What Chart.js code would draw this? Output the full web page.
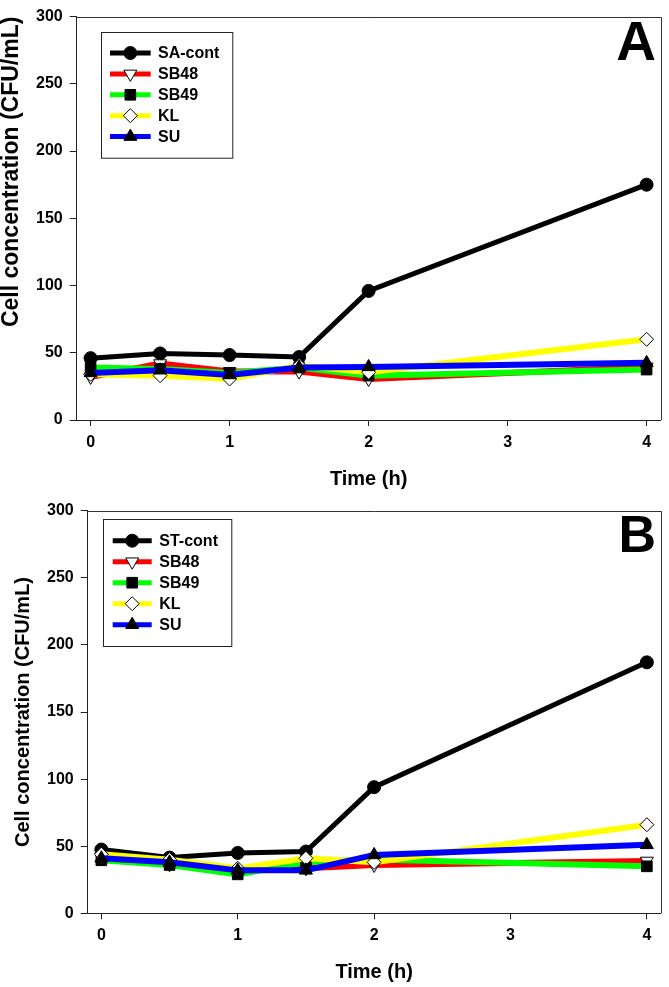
<!DOCTYPE html>
<html><head><meta charset="utf-8">
<script src="https://cdn.jsdelivr.net/npm/chart.js@4.4.0/dist/chart.umd.min.js"></script>
<style>
html,body{margin:0;padding:0;background:#fff;}
#wrap{position:relative;width:669px;height:987px;background:#fff;}
.panel{position:absolute;left:0;width:669px;}
canvas{display:block;}
</style></head><body>
<div id="wrap">
<div class="panel" style="top:0;height:493px"><canvas id="cA" width="669" height="493"></canvas></div>
<div class="panel" style="top:493px;height:494px"><canvas id="cB" width="669" height="494"></canvas></div>
</div>
<script>
// ---- data ----
const times = [0, 0.5, 1, 1.5, 2, 4];
const xTickValues = [0, 1, 2, 3, 4];
const yTickValues = [0, 50, 100, 150, 200, 250, 300];

const namesA = ['SA-cont', 'SB48', 'SB49', 'KL', 'SU'];
const namesB = ['ST-cont', 'SB48', 'SB49', 'KL', 'SU'];

const aCont = [46, 49.5, 48.3, 46.8, 96, 175];
const aSB48 = [32, 42, 36, 36, 30.5, 39.5];
const aSB49 = [39, 38, 35, 39, 33, 37.5];
const aKL   = [34, 33, 30.5, 40.5, 35.5, 60];
const aSU   = [35, 37, 33.5, 39, 39.5, 42.5];

const bCont = [47.5, 41.5, 45, 46, 94, 187];
const bSB48 = [42, 36.5, 31.5, 33.5, 36, 39];
const bSB49 = [39.5, 36, 29, 38, 40, 35];
const bKL   = [44, 40, 33.5, 41, 38, 66];
const bSU   = [41, 38, 32, 32, 43.5, 51];

// ---- styles ----
const FONT = "'Liberation Sans', Arial, Helvetica, sans-serif";
Chart.defaults.font.family = FONT;
Chart.defaults.color = '#000';

const styles = [
  {color:'#000000', point:'circle',   rot:0,   radius:6.5, fill:'#000000', width:5, order:5},
  {color:'#FF0000', point:'triangle', rot:180, radius:7.5, fill:'#FFFFFF', width:6, order:4},
  {color:'#00FF00', point:'rect',     rot:0,   radius:7.5, fill:'#000000', width:6, order:3},
  {color:'#FFFF00', point:'rectRot',  rot:0,   radius:7,   fill:'#FFFFFF', width:6, order:2},
  {color:'#0000FF', point:'triangle', rot:0,   radius:7.5, fill:'#000000', width:6, order:1}
];

function makeDatasets(names, seriesList) {
  return seriesList.map((vals, i) => {
    const s = styles[i];
    return {
      label: names[i],
      data: times.map((t, k) => ({x: t, y: vals[k]})),
      borderColor: s.color,
      backgroundColor: s.color,
      borderWidth: s.width,
      pointStyle: s.point,
      pointRotation: s.rot,
      pointRadius: s.radius,
      pointHoverRadius: s.radius,
      pointBackgroundColor: s.fill,
      pointBorderColor: '#000000',
      pointBorderWidth: 1,
      tension: 0,
      order: s.order,
      clip: false
    };
  });
}

// decoration plugin: frame (top/right), legend box, panel letter
const decoPlugin = {
  id: 'panelDeco',
  afterDatasetsDraw(chart, args, opts) {
    const ctx = chart.ctx;
    const ca = chart.chartArea;
    ctx.save();
    ctx.strokeStyle = '#333';
    ctx.lineWidth = 1;
    ctx.beginPath();
    ctx.moveTo(ca.left, Math.round(ca.top) + 0.5);
    ctx.lineTo(Math.round(ca.right) + 0.5, Math.round(ca.top) + 0.5);
    ctx.lineTo(Math.round(ca.right) + 0.5, ca.bottom);
    ctx.stroke();

    const L = opts.legend;
    ctx.strokeStyle = '#222';
    ctx.lineWidth = 1;
    ctx.strokeRect(Math.round(L.left) + 0.5, Math.round(L.top) + 0.5, L.w, L.h);
    chart.data.datasets.forEach((ds, i) => {
      const y = L.top + L.row0 + i * L.rowGap;
      ctx.strokeStyle = ds.borderColor;
      ctx.lineWidth = 5;
      ctx.lineCap = 'butt';
      ctx.beginPath();
      ctx.moveTo(L.left + L.lineX1, y);
      ctx.lineTo(L.left + L.lineX2, y);
      ctx.stroke();
      ctx.fillStyle = ds.pointBackgroundColor;
      ctx.strokeStyle = '#000';
      ctx.lineWidth = 1;
      Chart.helpers.drawPoint(ctx, {
        pointStyle: ds.pointStyle,
        rotation: ds.pointRotation,
        radius: ds.pointRadius,
        borderWidth: 1
      }, L.left + (L.lineX1 + L.lineX2) / 2, y);
      ctx.fillStyle = '#000';
      ctx.font = 'bold ' + L.fontSize + 'px ' + FONT;
      ctx.textAlign = 'left';
      ctx.textBaseline = 'middle';
      ctx.fillText(ds.label, L.left + L.textX, y + 1);
    });

    const P = opts.letter;
    ctx.fillStyle = '#000';
    ctx.font = 'bold ' + P.size + 'px ' + FONT;
    ctx.textAlign = 'right';
    ctx.textBaseline = 'alphabetic';
    ctx.fillText(P.text, P.x, P.y);
    ctx.restore();
  }
};

function makeChart(id, names, seriesList, cfg) {
  return new Chart(document.getElementById(id), {
    type: 'line',
    data: { datasets: makeDatasets(names, seriesList) },
    plugins: [decoPlugin],
    options: {
      responsive: false,
      animation: false,
      devicePixelRatio: 1,
      layout: { padding: { left: 0, top: cfg.padTop, right: cfg.padRight, bottom: 0 } },
      plugins: {
        legend: { display: false },
        tooltip: { enabled: false },
        panelDeco: { legend: cfg.legend, letter: cfg.letter }
      },
      scales: {
        x: {
          type: 'linear',
          min: -0.1,
          max: 4.1,
          afterBuildTicks: s => { s.ticks = xTickValues.map(v => ({value: v})); },
          afterFit: s => { s.height = cfg.xHeight; },
          ticks: { color: '#000', font: { size: 16, weight: 'bold' }, padding: 7, maxRotation: 0 },
          grid: { drawOnChartArea: false, drawTicks: true, tickLength: 6, tickColor: '#222', tickWidth: 1 },
          border: { display: true, color: '#222', width: 1 },
          title: {
            display: true, text: 'Time (h)', color: '#000',
            font: { size: 20, weight: 'bold', lineHeight: 1.2 },
            padding: { top: 0, bottom: cfg.xTitlePad }
          }
        },
        y: {
          type: 'linear',
          min: 0,
          max: 300,
          afterBuildTicks: s => { s.ticks = yTickValues.map(v => ({value: v})); },
          afterFit: s => { s.width = cfg.yWidth; },
          ticks: { color: '#000', font: { size: 16, weight: 'bold' }, padding: 7 },
          grid: { drawOnChartArea: false, drawTicks: true, tickLength: 7, tickColor: '#222', tickWidth: 1 },
          border: { display: true, color: '#222', width: 1 },
          title: {
            display: true, text: 'Cell concentration (CFU/mL)', color: '#000',
            align: cfg.yTitleAlign,
            font: { size: cfg.yTitleSize, weight: 'bold', lineHeight: cfg.yTitleLH },
            padding: { top: cfg.yTitlePad, bottom: 0 }
          }
        }
      }
    }
  });
}

makeChart('cA', namesA, [aCont, aSB48, aSB49, aKL, aSU], {
  padTop: 10, padRight: 5.7, xHeight: 73, yWidth: 76.7, xTitlePad: 2,
  yTitleAlign: 'end', yTitleSize: 23, yTitleLH: 1, yTitlePad: 0,
  legend: { left: 100.7, top: 32.3, w: 131.3, h: 125.7, row0: 20.7, rowGap: 20.9, lineX1: 9.3, lineX2: 50, textX: 57.3, fontSize: 16 },
  letter: { text: 'A', size: 55, x: 656, y: 60 }
});

makeChart('cB', namesB, [bCont, bSB48, bSB49, bKL, bSU], {
  padTop: 17.7, padRight: 4, xHeight: 73.7, yWidth: 87.7, xTitlePad: 3,
  yTitleAlign: 'center', yTitleSize: 20, yTitleLH: 1.2, yTitlePad: 11,
  legend: { left: 102.7, top: 26, w: 128.3, h: 127, row0: 21.7, rowGap: 21, lineX1: 10, lineX2: 49, textX: 56.6, fontSize: 16 },
  letter: { text: 'B', size: 52, x: 656, y: 58.7 }
});
</script>
</body></html>
